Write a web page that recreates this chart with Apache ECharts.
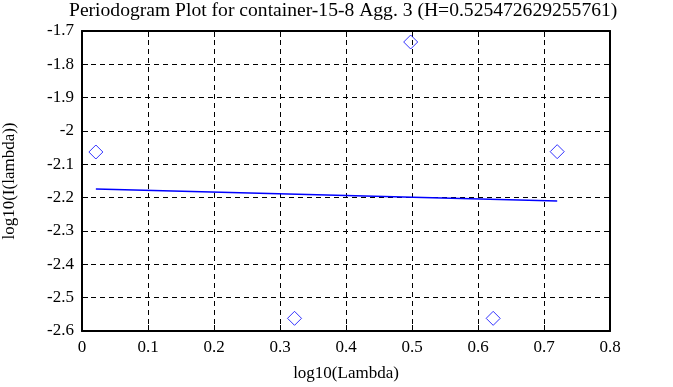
<!DOCTYPE html>
<html><head><meta charset="utf-8">
<script src="https://cdn.jsdelivr.net/npm/echarts@6/dist/echarts.min.js"></script>
<style>html,body{margin:0;padding:0;background:#fff}#c{width:673px;height:387px}</style>
</head><body><div id="c"></div>
<script>
const titleText = 'Periodogram Plot for container-15-8 Agg. 3 (H=0.525472629255761)';
const pointX = [0.021, 0.322, 0.498, 0.623, 0.720];
const pointY = [-2.063, -2.562, -1.733, -2.562, -2.062];
const fitX = [0.021, 0.720];
const fitY = [-2.174, -2.210];
const xName = 'log10(Lambda)';
const yName = 'log10(I(lambda))';

const font = 'Liberation Serif';
const fmt = v => String(+(+v).toFixed(1));
const baseAxis = {
  axisLine: {show: true, onZero: false, lineStyle: {color: '#000', width: 2}},
  axisTick: {show: true, inside: true, length: 6, lineStyle: {color: '#000', width: 1}},
};
const chart = echarts.init(document.getElementById('c'), null, {renderer: 'canvas'});
chart.setOption({
  animation: false,
  backgroundColor: '#fff',
  title: {text: titleText, left: 64, top: -4,
    textStyle: {fontFamily: font, fontSize: 19.6, fontWeight: 'normal', color: '#000'}},
  grid: {left: 82, right: 63, top: 31, bottom: 56, containLabel: false, outerBoundsMode: 'none'},
  xAxis: [
    Object.assign({type: 'value', min: 0, max: 0.8, interval: 0.1, position: 'bottom',
      name: xName, nameLocation: 'middle', nameGap: 34,
      nameTextStyle: {fontFamily: font, fontSize: 17, color: '#000'},
      axisLabel: {formatter: fmt, fontFamily: font, fontSize: 17, color: '#000', margin: 8},
      splitLine: {show: true, lineStyle: {color: '#000', type: [5, 4], width: 1}}}, baseAxis),
    Object.assign({type: 'value', min: 0, max: 0.8, interval: 0.1, position: 'top',
      axisLabel: {show: false}, splitLine: {show: false}}, baseAxis)
  ],
  yAxis: [
    Object.assign({type: 'value', min: -2.6, max: -1.7, interval: 0.1, position: 'left',
      name: yName, nameLocation: 'middle', nameGap: 64, nameRotate: 90,
      nameTextStyle: {fontFamily: font, fontSize: 17, color: '#000'},
      axisLabel: {formatter: fmt, fontFamily: font, fontSize: 17, color: '#000', margin: 8},
      splitLine: {show: true, lineStyle: {color: '#000', type: [5, 4], width: 1}}}, baseAxis),
    Object.assign({type: 'value', min: -2.6, max: -1.7, interval: 0.1, position: 'right',
      axisLabel: {show: false}, splitLine: {show: false}}, baseAxis)
  ],
  series: [
    {type: 'scatter', data: pointX.map((x, i) => [x, pointY[i]]),
      symbol: 'diamond', symbolSize: [14, 14],
      itemStyle: {color: 'transparent', borderColor: '#0000ff', borderWidth: 1}},
    {type: 'line', data: fitX.map((x, i) => [x, fitY[i]]), symbol: 'none',
      lineStyle: {color: '#0000ff', width: 1.3}}
  ]
});
</script></body></html>
